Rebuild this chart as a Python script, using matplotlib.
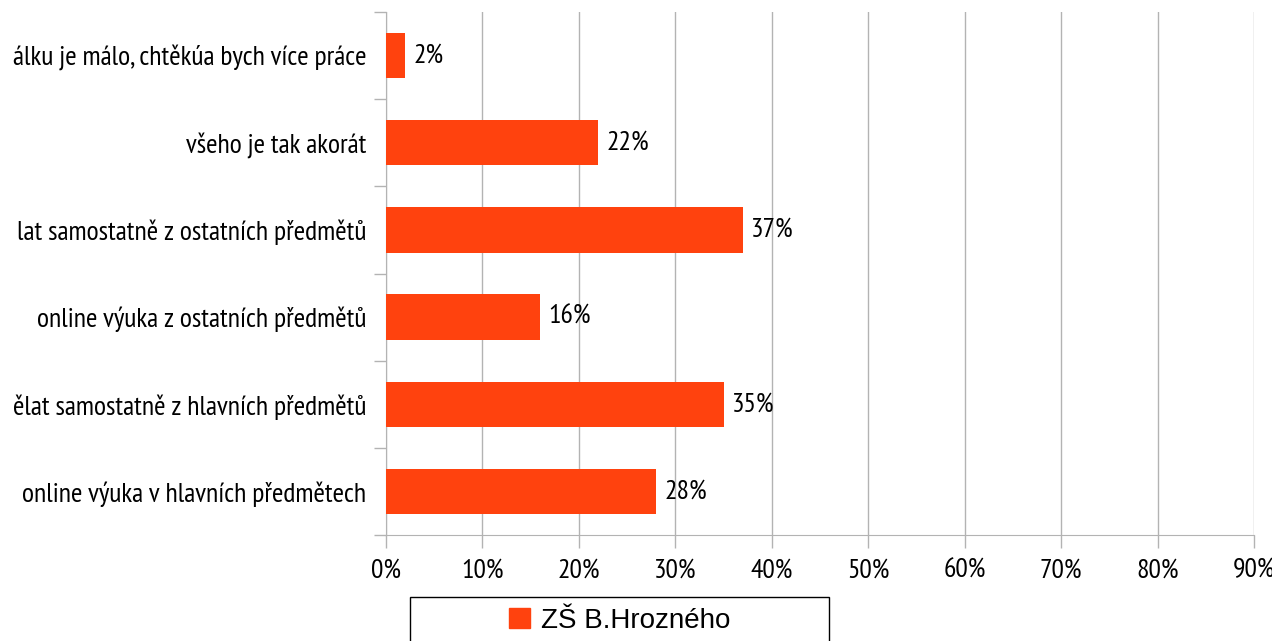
import matplotlib
matplotlib.use('Agg')
import matplotlib.pyplot as plt
from matplotlib.patches import Rectangle, Patch
import numpy as np

# labels as visible in the source (left part is cut off there)
categories = ['online výuka v hlavních předmětech',
              'ělat samostatně z hlavních předmětů',
              'online výuka z ostatních předmětů',
              'lat samostatně z ostatních předmětů',
              'všeho je tak akorát',
              'álku je málo, chtěkúa bych více práce']
values = [28, 35, 16, 37, 22, 2]
series_name = 'ZŠ B.Hrozného'
xticks = [0, 10, 20, 30, 40, 50, 60, 70, 80, 90]

plt.rcParams['font.family'] = ['PT Sans Narrow', 'Archivo Narrow', 'DejaVu Sans']
bar_color = '#FF420E'
grid_color = '#b3b3b3'
fs = 20

fig = plt.figure(figsize=(12.72, 6.41), dpi=100)
ax = fig.add_axes([386 / 1272, 1 - 535 / 641, 868 / 1272, 523 / 641])

y = np.arange(len(categories))
bars = ax.barh(y, values, height=0.52, color=bar_color, zorder=3)
ax.bar_label(bars, labels=[f'{v}%' for v in values], padding=6, fontsize=fs)

ax.set_xlim(0, 90)
ax.set_ylim(-0.5, len(categories) - 0.5)
ax.set_xticks(xticks)
ax.set_xticklabels([f'{t}%' for t in xticks], fontsize=fs)
ax.set_yticks(y)
ax.set_yticklabels(categories, fontsize=fs)
ax.set_yticks(np.arange(-0.5, len(categories), 1), minor=True)

ax.tick_params(axis='y', which='major', length=0, pad=14)
ax.tick_params(axis='y', which='minor', length=9, color=grid_color, width=1)
ax.tick_params(axis='x', length=9, color=grid_color, width=1, pad=8)

ax.xaxis.grid(True, color=grid_color, linewidth=1, zorder=0)
for s in ['top', 'right']:
    ax.spines[s].set_visible(False)
for s in ['left', 'bottom']:
    ax.spines[s].set_color(grid_color)

fig.patches.append(Rectangle((410 / 1272, -0.05), 419 / 1272, (641 - 597) / 641 + 0.05,
                             transform=fig.transFigure, fill=False, edgecolor='black', lw=1))
fig.legend(handles=[Patch(color=bar_color, label=series_name)], loc='center',
           bbox_to_anchor=(619.5 / 1272, 1 - 621 / 641), frameon=False,
           prop={'family': 'Liberation Sans', 'size': 20},
           handlelength=0.75, handleheight=0.75, handletextpad=0.4)

fig.savefig('out.png', dpi=100)
